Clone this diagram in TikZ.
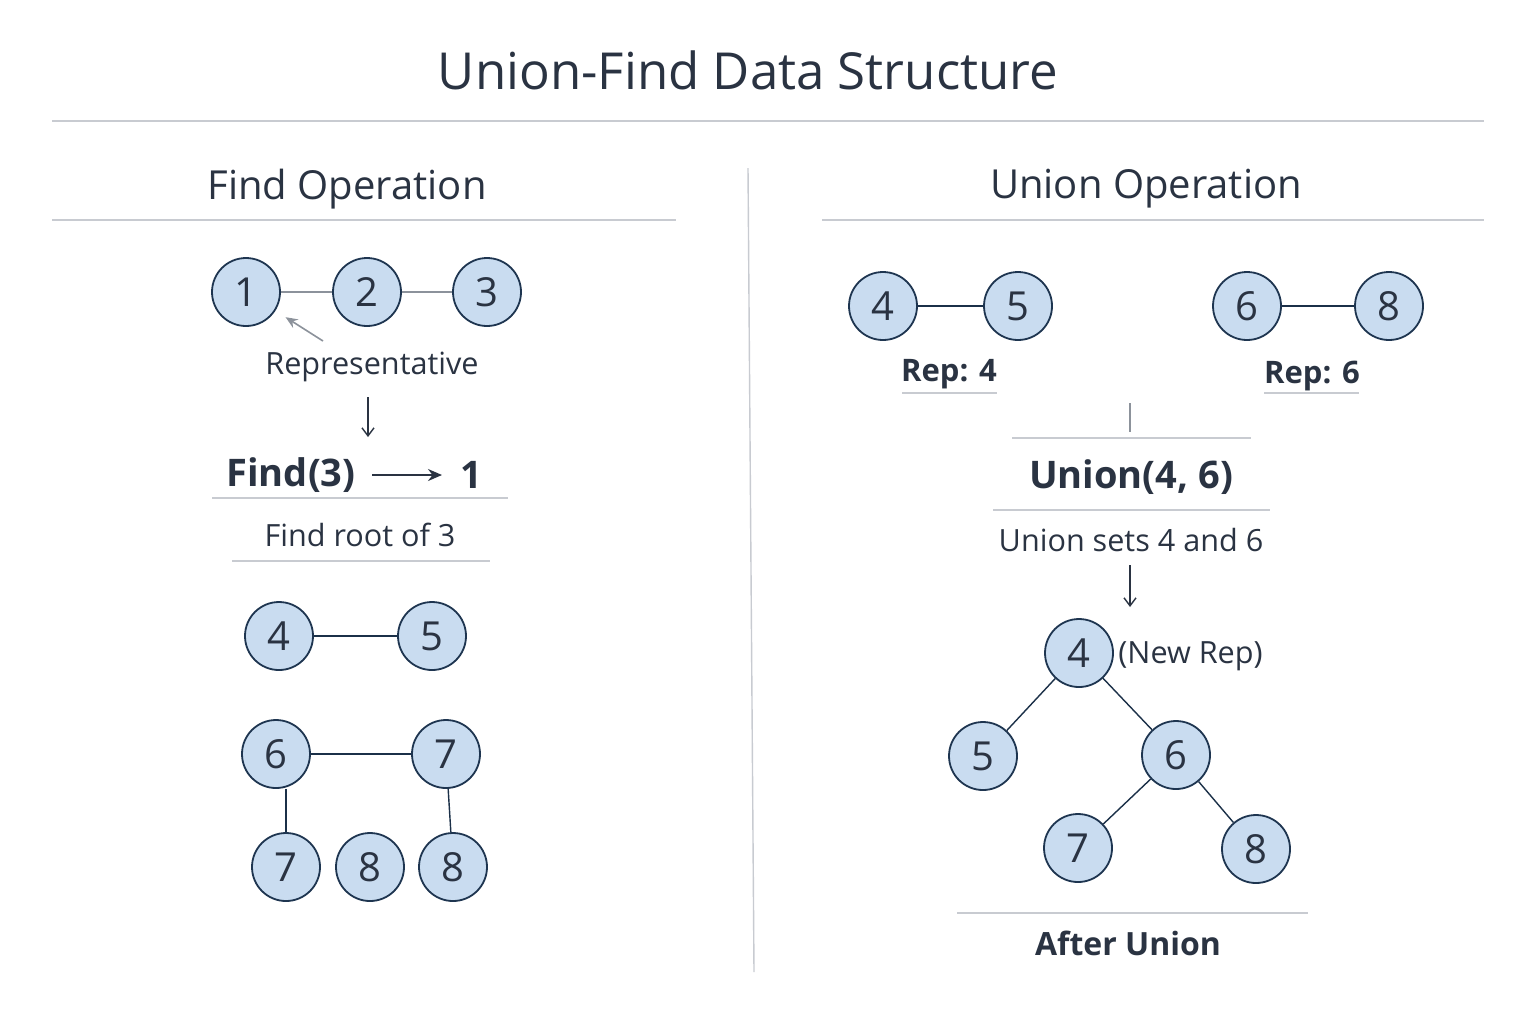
\documentclass[tikz,border=0pt]{standalone}
\usepackage{fontspec}
\setmainfont{Open Sans}
\usetikzlibrary{arrows.meta}
\definecolor{ink}{HTML}{2A3342}
\definecolor{navy}{HTML}{1E3550}
\definecolor{nodefill}{HTML}{C9DCF0}
\definecolor{rule}{HTML}{C8CBD1}
\definecolor{edgegrey}{HTML}{8C929B}
\tikzset{
  circ/.style={circle,draw=navy,fill=nodefill,line width=0.9pt,minimum size=34pt,inner sep=0pt,text=ink,font=\fontsize{20}{23}\selectfont},
  titletext/.style={text=ink,font=\fontsize{25.5}{30}\selectfont},
  headtext/.style={text=ink,font=\fontsize{20}{24}\selectfont},
  lbl/.style={text=ink,font=\fontsize{15.3}{18}\selectfont},
  bigtext/.style={text=ink,font=\fontsize{19}{22}\selectfont\bfseries},
  boldlbl/.style={text=ink,font=\fontsize{15.5}{18}\selectfont\bfseries},
  rulestyle/.style={draw=rule,line width=0.8pt},
  edge/.style={draw=navy!90!black,line width=0.7pt},
  greyedge/.style={draw=edgegrey,line width=0.6pt},
  darrow/.style={draw=ink,line width=0.7pt,-{Straight Barb[length=4pt,width=6pt]}},
}
\begin{document}
\begin{tikzpicture}[x=0.5pt,y=-0.5pt]
\useasboundingbox[fill=white] (0,0) rectangle (1536,1024);
% title
\node[titletext] (title) at (748,70) {Union-Find Data Structure};
\coordinate (tl) at (52,121); \coordinate (tr) at (1484,121);
\draw[rulestyle,line width=1.3pt] (tl) -- (tr);
% divider
\coordinate (dt) at (748,168); \coordinate (db) at (754,972);
\draw[rulestyle,line width=0.7pt] (dt) -- (db);
% section heads
\node[headtext] (fhead) at (347,189) {Find Operation};
\coordinate (fl) at (52,220); \coordinate (fr) at (676,220);
\draw[rulestyle] (fl) -- (fr);
\node[headtext] (uhead) at (1146,189) {Union Operation};
\coordinate (ul) at (822,220); \coordinate (ur) at (1484,220);
\draw[rulestyle] (ul) -- (ur);

% ---------- Find side ----------
\node[circ] (f1) at (246,292) {1};
\node[circ] (f2) at (367,292) {2};
\node[circ] (f3) at (487,292) {3};
\draw[greyedge] (f1) -- (f2);
\draw[greyedge] (f2) -- (f3);
\coordinate (repfrom) at (323,341);
\draw[greyedge,line width=0.8pt,-{Stealth[length=6pt,width=5pt]},shorten >=6pt] (repfrom) -- (f1);
\node[lbl] (rep) at (372,367) {Representative};
\coordinate (da1) at (368,397); \coordinate (da2) at (368,437);
\draw[darrow] (da1) -- (da2);
\node[bigtext] (find3) at (291,475) {Find(3)};
\node[bigtext] (res1) at (471,475) {1};
\coordinate (fa1) at (372,475); \coordinate (fa2) at (442,475);
\draw[draw=ink,line width=0.8pt,-{Stealth[length=7pt,width=6pt]}] (fa1) -- (fa2);
\coordinate (r1l) at (212,498); \coordinate (r1r) at (508,498);
\draw[rulestyle] (r1l) -- (r1r);
\node[lbl] (froot) at (360,535) {Find root of 3};
\coordinate (r2l) at (232,561); \coordinate (r2r) at (490,561);
\draw[rulestyle] (r2l) -- (r2r);

\node[circ] (g4) at (279,636) {4};
\node[circ] (g5) at (432,636) {5};
\draw[edge] (g4) -- (g5);
\node[circ] (g6) at (276,754) {6};
\node[circ] (g7) at (446,754) {7};
\draw[edge] (g6) -- (g7);
\node[circ] (h7) at (286,867) {7};
\node[circ] (h8) at (370,867) {8};
\node[circ] (k8) at (453,867) {8};
\draw[edge] (g6.south -| h7) -- (h7.north);
\draw[edge] (g7) -- (k8);

% ---------- Union side ----------
\node[circ] (u4) at (883,306) {4};
\node[circ] (u5) at (1018,306) {5};
\node[circ] (u6) at (1247,306) {6};
\node[circ] (u8) at (1389,306) {8};
\draw[edge] (u4) -- (u5);
\draw[edge] (u6) -- (u8);
\node[boldlbl] (rep4) at (949,374) {Rep: 4};
\coordinate (rl1) at (902,393); \coordinate (rr1) at (997,393);
\draw[rulestyle] (rl1) -- (rr1);
\node[boldlbl] (rep6) at (1312,376) {Rep: 6};
\coordinate (rl2) at (1264,393); \coordinate (rr2) at (1359,393);
\draw[rulestyle] (rl2) -- (rr2);
\coordinate (tk1) at (1130,403); \coordinate (tk2) at (1130,432);
\draw[draw=edgegrey,line width=0.6pt] (tk1) -- (tk2);
\coordinate (r3l) at (1012,438); \coordinate (r3r) at (1251,438);
\draw[rulestyle] (r3l) -- (r3r);
\node[bigtext] (union) at (1131,477) {Union(4, 6)};
\coordinate (r4l) at (993,510); \coordinate (r4r) at (1270,510);
\draw[rulestyle] (r4l) -- (r4r);
\node[lbl] (usets) at (1131,540) {Union sets 4 and 6};
\coordinate (ua1) at (1130,565); \coordinate (ua2) at (1130,607);
\draw[darrow] (ua1) -- (ua2);

\node[circ] (t4) at (1079,653) {4};
\node[lbl,anchor=west,inner sep=0pt] (newrep) at (1118,656) {(New Rep)};
\node[circ] (t5) at (983,756) {5};
\node[circ] (t6) at (1176,755) {6};
\node[circ] (t7) at (1078,848) {7};
\node[circ] (t8) at (1256,849) {8};
\draw[edge] (t4) -- (t5);
\draw[edge] (t4) -- (t6);
\draw[edge] (t6) -- (t7);
\draw[edge] (t6) -- (t8);
\coordinate (r5l) at (957,913); \coordinate (r5r) at (1308,913);
\draw[rulestyle] (r5l) -- (r5r);
\node[text=ink,font=\fontsize{16}{19}\selectfont\bfseries] (after) at (1128,943) {After Union};
\end{tikzpicture}
\end{document}
